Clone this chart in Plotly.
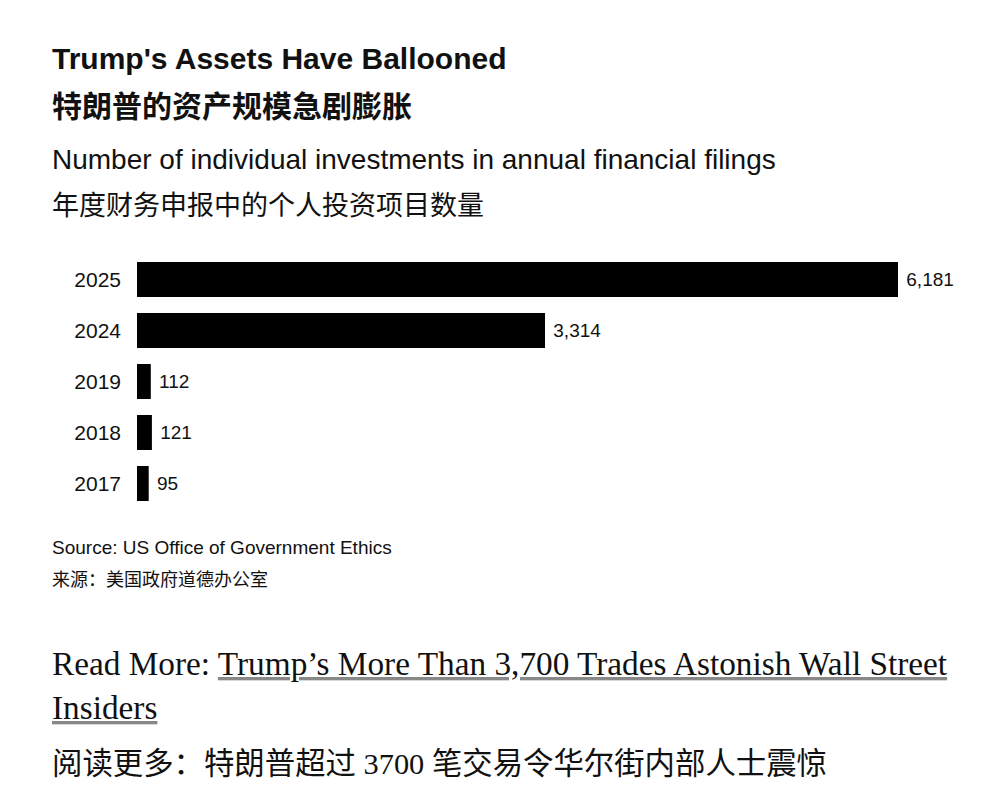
import plotly.graph_objects as go

years = ["2017", "2018", "2019", "2024", "2025"]
counts = [95, 121, 112, 3314, 6181]
labels = ["95", "121", "112", "3,314", "6,181"]

W, H = 998, 804
L, R, T, B = 137, 100, 254, 295
SANS = "Liberation Sans, Noto Sans CJK SC, sans-serif"
SERIF = "Liberation Serif, Noto Sans CJK SC, serif"

def py(p):
    return (H - B - p) / (H - T - B)

fig = go.Figure(go.Bar(
    y=years, x=counts, orientation="h",
    marker=dict(color="#000000", line=dict(width=0)),
    text=[" " + s for s in labels], textposition="outside",
    textfont=dict(family=SANS, size=19, color="#111"),
    cliponaxis=False, hoverinfo="skip",
))

fig.update_layout(
    width=W, height=H, margin=dict(l=L, r=R, t=T, b=B),
    paper_bgcolor="white", plot_bgcolor="white",
    bargap=0.314, showlegend=False,
    xaxis=dict(range=[0, 6181], visible=False, fixedrange=True),
    yaxis=dict(type="category", categoryorder="array", categoryarray=years,
               showgrid=False, zeroline=False, showline=False, ticks="",
               ticklabelstandoff=15,
               tickfont=dict(family=SANS, size=21, color="#111")),
)

def ann(text, y, size, family=SANS, color="#111"):
    fig.add_annotation(text=text, xref="paper", yref="paper", x=0, y=py(y),
                       xanchor="left", yanchor="middle", xshift=50 - L,
                       showarrow=False, align="left",
                       font=dict(family=family, size=size, color=color))

ann("<b>Trump's Assets Have Ballooned</b>", 58, 30)
ann("<b>特朗普的资产规模急剧膨胀</b>", 106, 30)
ann("Number of individual investments in annual financial filings", 159, 28)
ann("年度财务申报中的个人投资项目数量", 206, 27)
ann("Source: US Office of Government Ethics", 547, 19)
ann("来源：美国政府道德办公室", 580, 18)
ul = "text-decoration:underline;color:#888"
inner = "color:#111"
ann("Read More: <span style='%s'><span style='%s'>Trump’s More Than 3,700 Trades Astonish Wall Street</span></span>" % (ul, inner), 663, 33.3, SERIF)
ann("<span style='%s'><span style='%s'>Insiders</span></span>" % (ul, inner), 707, 33.3, SERIF)
ann("阅读更多：特朗普超过 3700 笔交易令华尔街内部人士震惊", 764, 30.4, SERIF)

fig.write_html("out.html")
